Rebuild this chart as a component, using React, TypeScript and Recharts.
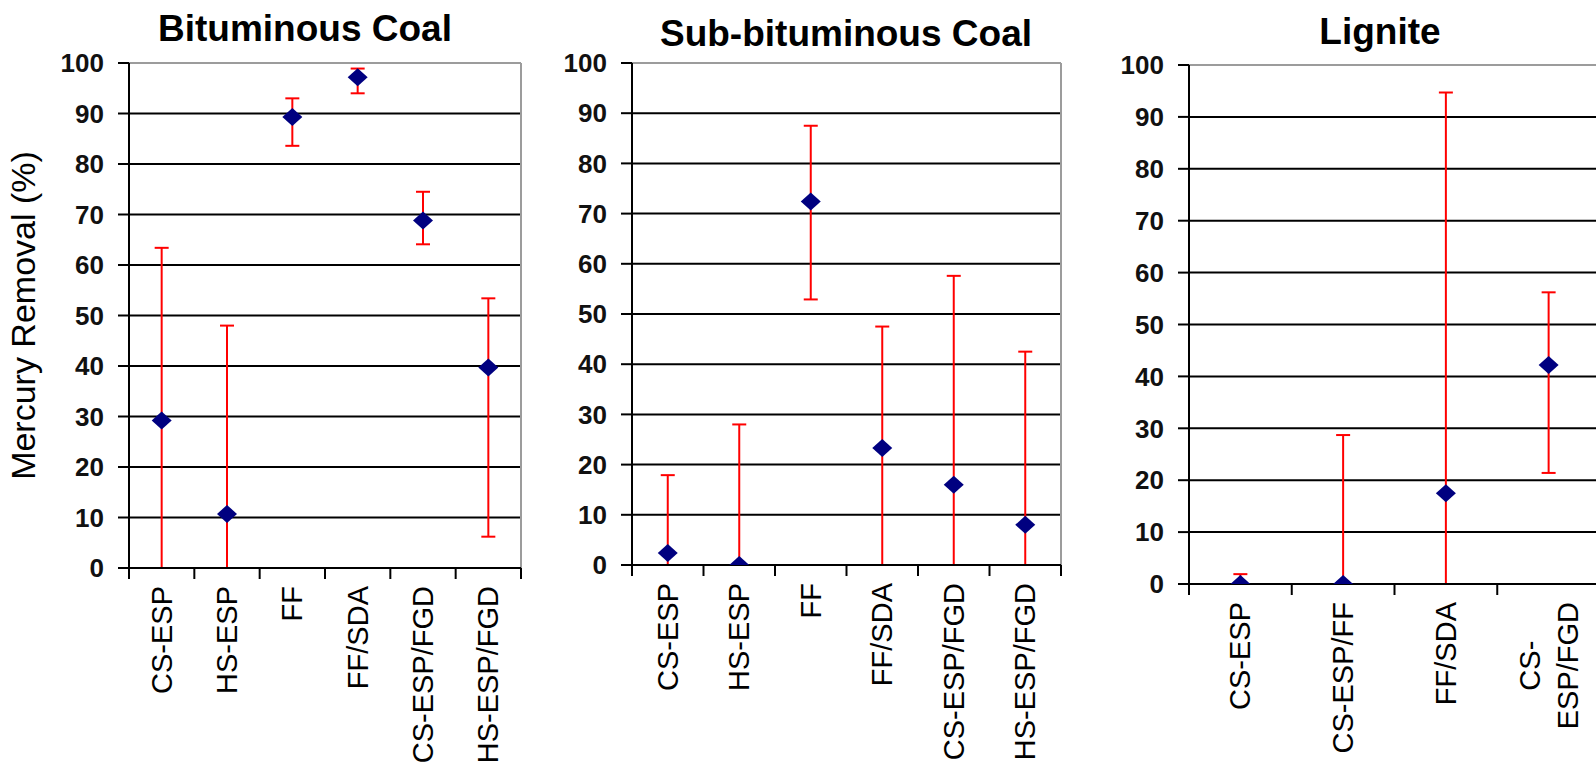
import React from 'react';
import { ComposedChart, Scatter, ErrorBar, XAxis, YAxis, CartesianGrid, ReferenceLine } from 'recharts';

const FONT = '"Liberation Sans", Arial, Helvetica, sans-serif';

// ---- Data ----
const bitCategories = ['CS-ESP', 'HS-ESP', 'FF', 'FF/SDA', 'CS-ESP/FGD', 'HS-ESP/FGD'];
const bitMean = [29.2, 10.7, 89.3, 97.2, 68.8, 39.7];
const bitLow = [0, 0, 83.6, 94.0, 64.1, 6.2];
const bitHigh = [63.4, 48.0, 93.0, 98.9, 74.5, 53.4];

const subCategories = ['CS-ESP', 'HS-ESP', 'FF', 'FF/SDA', 'CS-ESP/FGD', 'HS-ESP/FGD'];
const subMean = [2.4, 0, 72.4, 23.3, 16.0, 8.0];
const subLow = [0, 0, 52.9, 0, 0, 0];
const subHigh = [17.9, 28.0, 87.5, 47.5, 57.6, 42.5];

const ligCategories = ['CS-ESP', 'CS-ESP/FF', 'FF/SDA', 'CS-ESP/FGD'];
const ligTickLabels = ['CS-ESP', 'CS-ESP/FF', 'FF/SDA', 'CS-\nESP/FGD'];
const ligMean = [0, 0, 17.5, 42.2];
const ligLow = [0, 0, 0, 21.4];
const ligHigh = [1.9, 28.7, 94.7, 56.2];

const yTicks = [0, 10, 20, 30, 40, 50, 60, 70, 80, 90, 100];
const gridValues = [10, 20, 30, 40, 50, 60, 70, 80, 90];
const titles = ['Bituminous Coal', 'Sub-bituminous Coal', 'Lignite'];
const yTitle = 'Mercury Removal (%)';

// ---- helpers ----
let measureCtx: CanvasRenderingContext2D | null = null;
function measure(s: string, size: number): number {
  if (!measureCtx) {
    const c = document.createElement('canvas');
    measureCtx = c.getContext('2d');
  }
  if (!measureCtx) return s.length * size * 0.6;
  measureCtx.font = `${size}px ${FONT}`;
  return measureCtx.measureText(s).width;
}

function buildRows(cats: string[], mean: number[], low: number[], high: number[]) {
  return cats.map((c, i) => ({
    name: c,
    x: i + 0.5,
    y: mean[i],
    err: [mean[i] - low[i], high[i] - mean[i]],
  }));
}

const Diamond = (props: any) => {
  const { cx, cy } = props;
  if (cx == null || cy == null) return null;
  return (
    <polygon
      points={`${cx},${cy - 9} ${cx + 10},${cy} ${cx},${cy + 9} ${cx - 10},${cy}`}
      fill="#000080"
    />
  );
};

const X_LABEL_SIZE = 29;

const makeXTick = (labels: string[]) => (props: any) => {
  const { x, y, payload } = props;
  const v = payload.value as number;
  if (Number.isInteger(v)) {
    return <line x1={x} x2={x} y1={y} y2={y + 11} stroke="#000" strokeWidth={2} />;
  }
  const idx = Math.floor(v);
  const lines = (labels[idx] ?? '').split('\n');
  const size = X_LABEL_SIZE;
  const lh = 38;
  const gap = 18;
  if (lines.length === 1) {
    return (
      <g transform={`translate(${x},${y + gap}) rotate(-90)`}>
        <text x={0} y={0} textAnchor="end" dominantBaseline="central" fontSize={size} fontFamily={FONT} fill="#000">
          {lines[0]}
        </text>
      </g>
    );
  }
  const maxLen = Math.max(...lines.map((l) => measure(l, size)));
  return (
    <g transform={`translate(${x},${y + gap}) rotate(-90)`}>
      {lines.map((ln, i) => (
        <text
          key={i}
          x={-maxLen / 2}
          y={(i - (lines.length - 1) / 2) * lh}
          textAnchor="middle"
          dominantBaseline="central"
          fontSize={size}
          fontFamily={FONT}
          fill="#000"
        >
          {ln}
        </text>
      ))}
    </g>
  );
};

const YTitle = (props: any) => {
  const vb = props.viewBox || { x: 0, y: 0, width: 0, height: 0 };
  const x = vb.x + 35;
  const y = vb.y + vb.height / 2;
  return (
    <text
      x={x}
      y={y}
      transform={`rotate(-90, ${x}, ${y})`}
      textAnchor="middle"
      fontSize={34}
      fontFamily={FONT}
      fill="#000"
    >
      {yTitle}
    </text>
  );
};

type PanelProps = {
  cats: string[];
  labels: string[];
  mean: number[];
  low: number[];
  high: number[];
  left: number;
  width: number;
  top: number;
  xAxisHeight: number;
  yAxisWidth: number;
  marginRight: number;
  showYTitle?: boolean;
};

function Panel(p: PanelProps) {
  const n = p.cats.length;
  const rows = buildRows(p.cats, p.mean, p.low, p.high);
  const xTicks: number[] = [];
  for (let i = 0; i <= 2 * n; i++) xTicks.push(i / 2);
  return (
    <div style={{ position: 'absolute', left: p.left, top: 0, width: p.width, height: 767 }}>
      <ComposedChart
        width={p.width}
        height={767}
        margin={{ top: p.top, right: p.marginRight, left: 0, bottom: 0 }}
      >
        <CartesianGrid horizontal vertical={false} horizontalValues={gridValues} stroke="#000" strokeWidth={2} />
        <ReferenceLine y={100} stroke="#9c9c9c" strokeWidth={2} />
        <ReferenceLine x={n} stroke="#9c9c9c" strokeWidth={2} />
        <XAxis
          type="number"
          dataKey="x"
          domain={[0, n]}
          ticks={xTicks}
          interval={0}
          allowDataOverflow
          height={p.xAxisHeight}
          axisLine={{ stroke: '#000', strokeWidth: 2 }}
          tickLine={false}
          tickSize={0}
          tickMargin={0}
          tick={makeXTick(p.labels)}
        />
        <YAxis
          type="number"
          domain={[0, 100]}
          ticks={yTicks}
          interval={0}
          allowDataOverflow
          width={p.yAxisWidth}
          axisLine={{ stroke: '#000', strokeWidth: 2 }}
          tickLine={{ stroke: '#000', strokeWidth: 2 }}
          tickSize={11}
          tickMargin={14}
          tick={{ fontSize: 26, fontWeight: 'bold', fill: '#111', fontFamily: FONT }}
          label={p.showYTitle ? <YTitle /> : undefined}
        />
        <Scatter data={rows} dataKey="y" shape={<Diamond />} isAnimationActive={false}>
          <ErrorBar dataKey="err" direction="y" width={7} stroke="#ff0000" strokeWidth={2} />
        </Scatter>
      </ComposedChart>
    </div>
  );
}

export default function App() {
  return (
    <div
      style={{
        position: 'absolute',
        left: 0,
        top: 0,
        width: 1596,
        height: 767,
        overflow: 'hidden',
        background: '#fff',
        fontFamily: FONT,
      }}
    >
      <Panel
        cats={bitCategories}
        labels={bitCategories}
        mean={bitMean}
        low={bitLow}
        high={bitHigh}
        left={0}
        width={540}
        top={63}
        xAxisHeight={199}
        yAxisWidth={129}
        marginRight={19}
        showYTitle
      />
      <Panel
        cats={subCategories}
        labels={subCategories}
        mean={subMean}
        low={subLow}
        high={subHigh}
        left={540}
        width={530}
        top={63}
        xAxisHeight={202}
        yAxisWidth={92}
        marginRight={9}
      />
      <Panel
        cats={ligCategories}
        labels={ligTickLabels}
        mean={ligMean}
        low={ligLow}
        high={ligHigh}
        left={1070}
        width={530}
        top={65}
        xAxisHeight={183}
        yAxisWidth={119}
        marginRight={0}
      />
      <svg
        width={1596}
        height={767}
        style={{ position: 'absolute', left: 0, top: 0, pointerEvents: 'none' }}
      >
        <text x={305} y={41} textAnchor="middle" fontSize={37} fontWeight="bold" fontFamily={FONT} fill="#000">
          {titles[0]}
        </text>
        <text x={846} y={46} textAnchor="middle" fontSize={37} fontWeight="bold" fontFamily={FONT} fill="#000">
          {titles[1]}
        </text>
        <text x={1380} y={44} textAnchor="middle" fontSize={37} fontWeight="bold" fontFamily={FONT} fill="#000">
          {titles[2]}
        </text>
      </svg>
    </div>
  );
}
